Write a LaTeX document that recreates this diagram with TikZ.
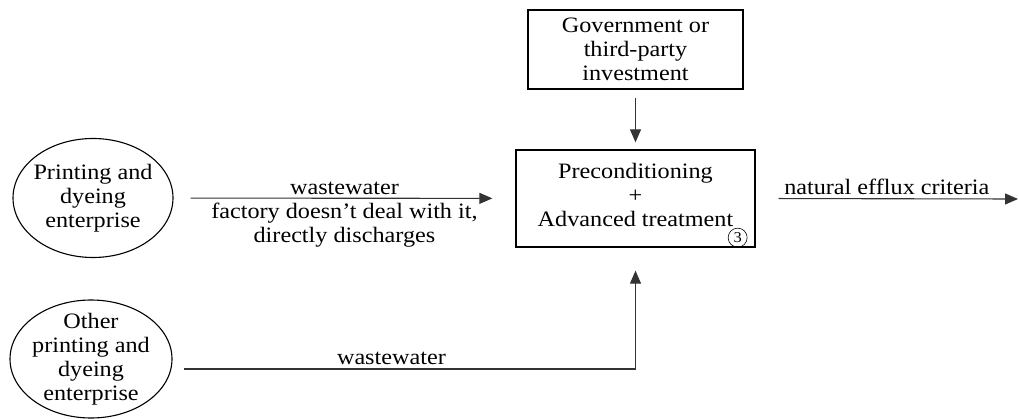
\documentclass[tikz,border=0pt]{standalone}
\usepackage{fontspec}
\setmainfont{Liberation Serif}[FakeStretch=1.1]
\usetikzlibrary{positioning,shapes.geometric,arrows.meta}

\begin{document}
\begin{tikzpicture}[x=1pt,y=-1pt,
font=\fontsize{22}{24}\selectfont,
box/.style={draw,rectangle,line width=1.3pt,align=center,inner sep=0pt},
firm/.style={draw,ellipse,line width=1.1pt,minimum width=160pt,minimum height=119pt,inner sep=0pt},
flow/.style={draw=black!80,line width=1.1pt,-{Triangle[length=13pt,width=11pt]}}]
\useasboundingbox (0,0) rectangle (1019,419);
\node (invest) [box,minimum width=215pt,minimum height=79pt] at (635.5,49.5) {Government or\\third-party\\investment};
\node (treat) [box,minimum width=239pt,minimum height=97pt,
    label={[align=center,yshift=4pt]center:Preconditioning\\+\\Advanced treatment}] at (635.5,198.5) {};
\node (tag) [draw,circle,line width=0.6pt,minimum size=19pt,inner sep=0pt,
    font=\fontsize{15}{15}\selectfont] at ([shift={(-18,-10)}]treat.south east) {3};
\node (ent1) [firm,
    label={[align=center]center:Printing and\\dyeing\\enterprise}] at (93,198) {};
\node (ent2) [firm,minimum width=162pt,minimum height=118pt,
    label={[align=center]center:Other\\printing and\\dyeing\\enterprise}] at (91,359) {};
\coordinate (outlet) at (1018,199);
\draw [flow,shorten <=8pt,shorten >=7pt] (invest) -- (treat);
\draw [flow,shorten <=17pt,shorten >=23pt] (ent1) -- (treat)
    node [midway,above] {wastewater}
    node [midway,below,align=center,inner sep=4pt] {factory doesn't deal with it,\\directly discharges};
\draw [flow,shorten >=23pt] (ent2.east) ++(11,10) -| (treat.south)
    node [pos=0.23,above] {wastewater};
\draw [flow,shorten <=23pt] (treat.east) -- (outlet)
    node [midway,above] {natural efflux criteria};
\end{tikzpicture}
\end{document}
